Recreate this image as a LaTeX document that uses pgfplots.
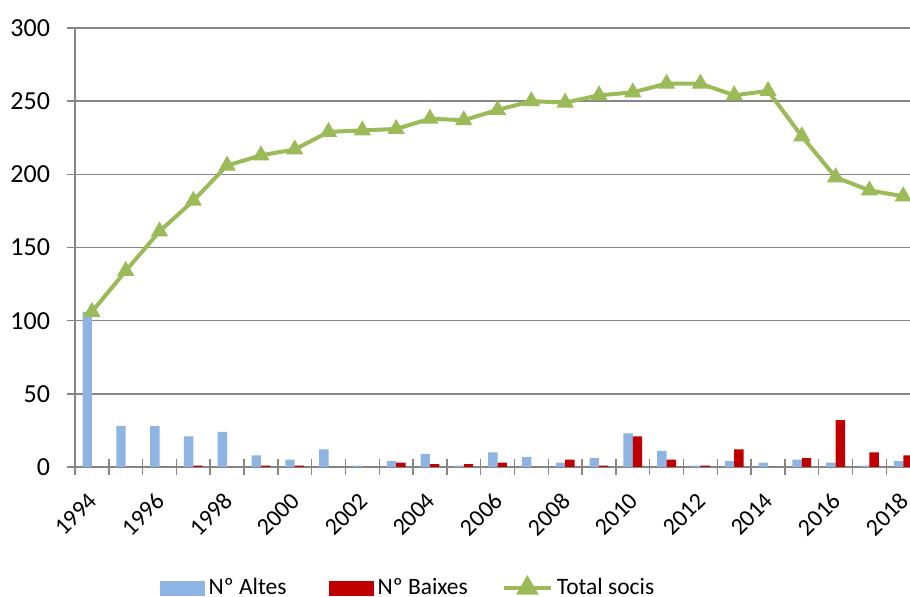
\documentclass[border=0pt]{standalone}
\usepackage{fontspec}
\setmainfont{Carlito}
\usepackage{pgfplots}
\usepackage{pgfplotstable}
\pgfplotsset{compat=1.18}
\definecolor{altes}{HTML}{8DB4E2}
\definecolor{baixes}{HTML}{C00000}
\definecolor{socis}{HTML}{9BBB59}
\definecolor{axgray}{HTML}{868686}
\pgfplotstableread{
x year altes baixes total
0  1994 106 0  106
1  1995 28  0  134
2  1996 28  0  161
3  1997 21  1  182
4  1998 24  0  206
5  1999 8   1  213
6  2000 5   1  217
7  2001 12  0  229
8  2002 1   0  230
9  2003 4   3  231
10 2004 9   2  238
11 2005 1   2  237
12 2006 10  3  244
13 2007 7   0  250
14 2008 3   5  249
15 2009 6   1  254
16 2010 23  21 256
17 2011 11  5  262
18 2012 1   1  262
19 2013 4   12 254
20 2014 3   0  257
21 2015 5   6  226
22 2016 3   32 198
23 2017 1   10 189
24 2018 4   8  185
}\datatable
\pgfplotsset{
  altesleg/.style={legend image code/.code={\fill[altes] (0pt,-3.75pt) rectangle (22.5pt,3.75pt);}},
  baixesleg/.style={legend image code/.code={\path (0pt,0pt); \fill[baixes] (4pt,-3.75pt) rectangle (26.5pt,3.75pt);}},
  socisleg/.style={legend image code/.code={%
    \draw[socis, line width=2pt] (0pt,0pt) -- (23.5pt,0pt);
    \fill[socis] (11.75pt,0pt) ++(90:4.5pt) -- ++(-120:7.8pt) -- ++(0:7.8pt) -- cycle;}},
}
\begin{document}
\begin{tikzpicture}
\begin{axis}[
  scale only axis, width=417.5pt, height=219.5pt,
  xmin=-0.5, xmax=24.2, ymin=0, ymax=300,
  axis x line*=bottom, axis y line*=left,
  axis line style={axgray, line width=1pt},
  ytick={0,50,...,300},
  minor ytick={0,50,...,300},
  ymajorgrids, grid style={axgray, line width=0.75pt},
  xtick={0,2,...,24},
  xticklabels={1994,1996,1998,2000,2002,2004,2006,2008,2010,2012,2014,2016,2018},
  minor xtick={-0.5,0.5,...,24.5},
  tick align=center,
  major tick length=0pt, minor tick length=8pt,
  tick style={axgray, line width=0.75pt},
  yticklabel style={font=\fontsize{13}{15}\selectfont, black, xshift=-9pt},
  /pgf/number format/assume math mode=true,
  xticklabel style={font=\fontsize{12}{14}\selectfont, black, xshift=3pt, yshift=-12.5pt, rotate=45, anchor=east},
  legend style={at={(0.400,-0.2757)}, anchor=center, draw=none,
    font=\fontsize{11.75}{14}\selectfont, legend columns=3,
    /tikz/every even column/.append style={column sep=15pt},
    nodes={inner sep=2pt}},
  legend cell align=left,
  clip=true,
]
\addplot[ybar, bar width=4.7pt, bar shift=-2.35pt, fill=altes, draw=none, altesleg]
  table[x=x, y=altes] {\datatable};
\addplot[ybar, bar width=4.7pt, bar shift=2.35pt, fill=baixes, draw=none, baixesleg]
  table[x=x, y=baixes] {\datatable};
\addplot[socis, line width=2pt, mark=triangle*, mark size=4.5pt,
  mark options={solid, fill=socis, draw=socis, line width=0.5pt}, socisleg]
  table[x=x, y=total] {\datatable};
\legend{Nº Altes, Nº Baixes, Total socis}
\coordinate (bl) at (rel axis cs:0,0);
\coordinate (tr) at (rel axis cs:1,1);
\end{axis}
\pgfresetboundingbox
\path[use as bounding box] ([xshift=-37.5pt,yshift=-65pt]bl) rectangle ([yshift=14pt]tr);
\end{tikzpicture}
\end{document}
